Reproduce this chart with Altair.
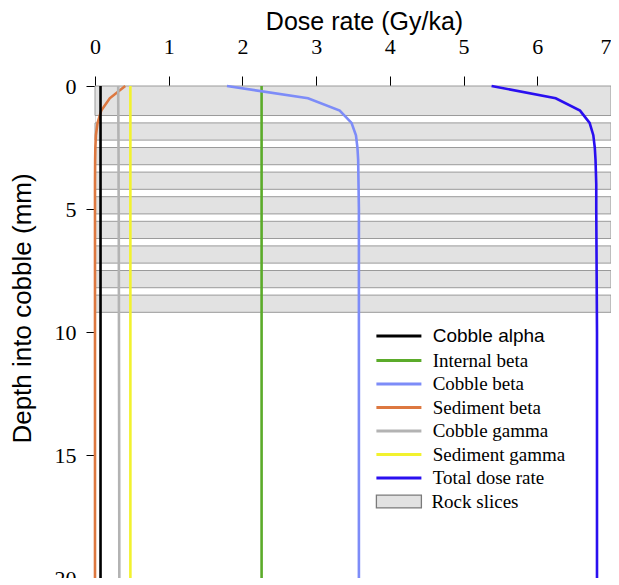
import altair as alt
import pandas as pd

# ---- data ----
depth = [0.0, 0.5, 1.0, 1.5, 2.0, 2.5, 3.0, 4.0, 5.0, 10.0, 15.0, 20.0]
cobble_alpha = [0.075, 0.075, 0.075, 0.075, 0.075, 0.075, 0.075, 0.075, 0.075, 0.075, 0.075, 0.075]
internal_beta = [2.26, 2.26, 2.26, 2.26, 2.26, 2.26, 2.26, 2.26, 2.26, 2.26, 2.26, 2.26]
cobble_beta = [1.79, 2.89, 3.32, 3.48, 3.54, 3.56, 3.57, 3.575, 3.58, 3.58, 3.58, 3.58]
sediment_beta = [0.41, 0.20, 0.085, 0.035, 0.012, 0.005, 0.002, 0.0, 0.0, 0.0, 0.0, 0.0]
cobble_gamma = [0.315, 0.315, 0.316, 0.317, 0.318, 0.319, 0.32, 0.32, 0.322, 0.325, 0.328, 0.33]
sediment_gamma = [0.48, 0.48, 0.48, 0.48, 0.48, 0.48, 0.48, 0.48, 0.48, 0.48, 0.48, 0.48]
total_dose = [5.38, 6.25, 6.58, 6.71, 6.76, 6.78, 6.79, 6.80, 6.80, 6.81, 6.81, 6.81]

slice_top = [0.0, 1.5, 2.5, 3.5, 4.5, 5.5, 6.5, 7.5, 8.5]
slice_bottom = [1.2, 2.2, 3.2, 4.2, 5.2, 6.2, 7.2, 8.2, 9.2]
slice_x0 = [0, 0, 0, 0, 0, 0, 0, 0, 0]
slice_x1 = [7, 7, 7, 7, 7, 7, 7, 7, 7]

series_names = ["Internal beta", "Cobble beta", "Sediment beta",
                "Cobble gamma", "Sediment gamma", "Total dose rate"]
series_colors = ["#5bab2a", "#7d8cf8", "#dd7840", "#b3b3b3", "#f2f22e", "#2a0ff0"]
series_values = [internal_beta, cobble_beta, sediment_beta,
                 cobble_gamma, sediment_gamma, total_dose]

x_ticks = [0, 1, 2, 3, 4, 5, 6, 7]
y_ticks = [0, 5, 10, 15, 20]

# ---- tables ----
rows = []
for name, vals in zip(series_names, series_values):
    for d, v in zip(depth, vals):
        rows.append({"series": name, "depth": d, "dose": v})
lines_df = pd.DataFrame(rows)
alpha_df = pd.DataFrame({"series": "Cobble alpha", "depth": depth, "dose": cobble_alpha})
slices_df = pd.DataFrame({"kind": "Rock slices", "top": slice_top, "bottom": slice_bottom,
                          "x0": slice_x0, "x1": slice_x1})

W, H = 516, 492

x_scale = alt.Scale(domain=[0, 7], nice=False)
y_scale = alt.Scale(domain=[0, 20], reverse=True, nice=False)

x_axis = alt.Axis(orient="top", values=x_ticks, format="d", labelFlush=False,
                  labelAlign={"condition": {"test": "datum.value >= 7", "value": "right"},
                              "value": "center"},
                  tickSize=10, labelPadding=18,
                  labelFont="Liberation Serif", labelFontSize=22, labelColor="black",
                  domainColor="black", tickColor="black", grid=False,
                  title="Dose rate (Gy/ka)", titleFont="Liberation Sans", titleFontSize=25,
                  titleFontWeight="normal", titleColor="black",
                  titleX=269, titleY=-57, titleBaseline="alphabetic", titleAlign="center")
y_axis = alt.Axis(orient="left", values=y_ticks, format="d", labelFlush=False,
                  tickSize=9, labelPadding=10, domain=False,
                  labelFont="Liberation Serif", labelFontSize=22, labelColor="black",
                  tickColor="black", grid=False,
                  title="Depth into cobble (mm)", titleFont="Liberation Sans", titleFontSize=26,
                  titleFontWeight="normal", titleColor="black", titleAngle=270,
                  titleX=-65, titleY=222, titleBaseline="alphabetic", titleAlign="center")

stroke_path = "M-3,0H3"
rect_path = "M-3,-0.85H3V0.85H-3Z"

slices = alt.Chart(slices_df).mark_rect(stroke="#9a9a9a", strokeWidth=1).encode(
    x=alt.X("x0:Q", scale=x_scale, axis=x_axis),
    x2="x1:Q",
    y=alt.Y("top:Q", scale=y_scale, axis=y_axis),
    y2="bottom:Q",
    fill=alt.Fill("kind:N", scale=alt.Scale(domain=["Rock slices"], range=["#e2e2e2"]),
                  legend=alt.Legend(title=None, orient="none", legendX=294.4, legendY=406,
                                    symbolType=rect_path, symbolSize=225,
                                    symbolStrokeColor="#7a7a7a", symbolStrokeWidth=1.3,
                                    symbolOpacity=1, labelOffset=23,
                                    labelFont="Liberation Serif", labelFontSize=19,
                                    labelColor="black", padding=0)),
)

alpha_line = alt.Chart(alpha_df).mark_line(color="black", strokeWidth=2.6).encode(
    x=alt.X("dose:Q", scale=x_scale),
    y=alt.Y("depth:Q", scale=y_scale),
    order="depth:Q",
    strokeDash=alt.StrokeDash("series:N", scale=alt.Scale(domain=["Cobble alpha"], range=[[1, 0]]),
                              legend=alt.Legend(title=None, orient="none", legendX=294.4, legendY=240.5,
                                                symbolType=stroke_path, symbolSize=225,
                                                symbolStrokeColor="black", symbolStrokeWidth=3,
                                                labelOffset=24.3, labelFont="Liberation Sans",
                                                labelFontSize=19, labelColor="black", padding=0)),
)

other_lines = alt.Chart(lines_df).mark_line(strokeWidth=2.6).encode(
    x=alt.X("dose:Q", scale=x_scale),
    y=alt.Y("depth:Q", scale=y_scale),
    order="depth:Q",
    color=alt.Color("series:N", scale=alt.Scale(domain=series_names, range=series_colors),
                    legend=alt.Legend(title=None, orient="none", legendX=294.4, legendY=265,
                                      symbolType=stroke_path, symbolSize=225, symbolStrokeWidth=3,
                                      rowPadding=3.5, labelOffset=24.3,
                                      labelFont="Liberation Serif", labelFontSize=19,
                                      labelColor="black", padding=0)),
)

chart = alt.layer(slices, other_lines, alpha_line).properties(
    width=W, height=H,
    autosize=alt.AutoSizeParams(type="none"),
    padding={"left": 87, "top": 78, "right": 0, "bottom": 0},
).configure_view(stroke=None).configure(background="white")

chart.save("out.html", embed_options={"renderer": "svg", "actions": False})
